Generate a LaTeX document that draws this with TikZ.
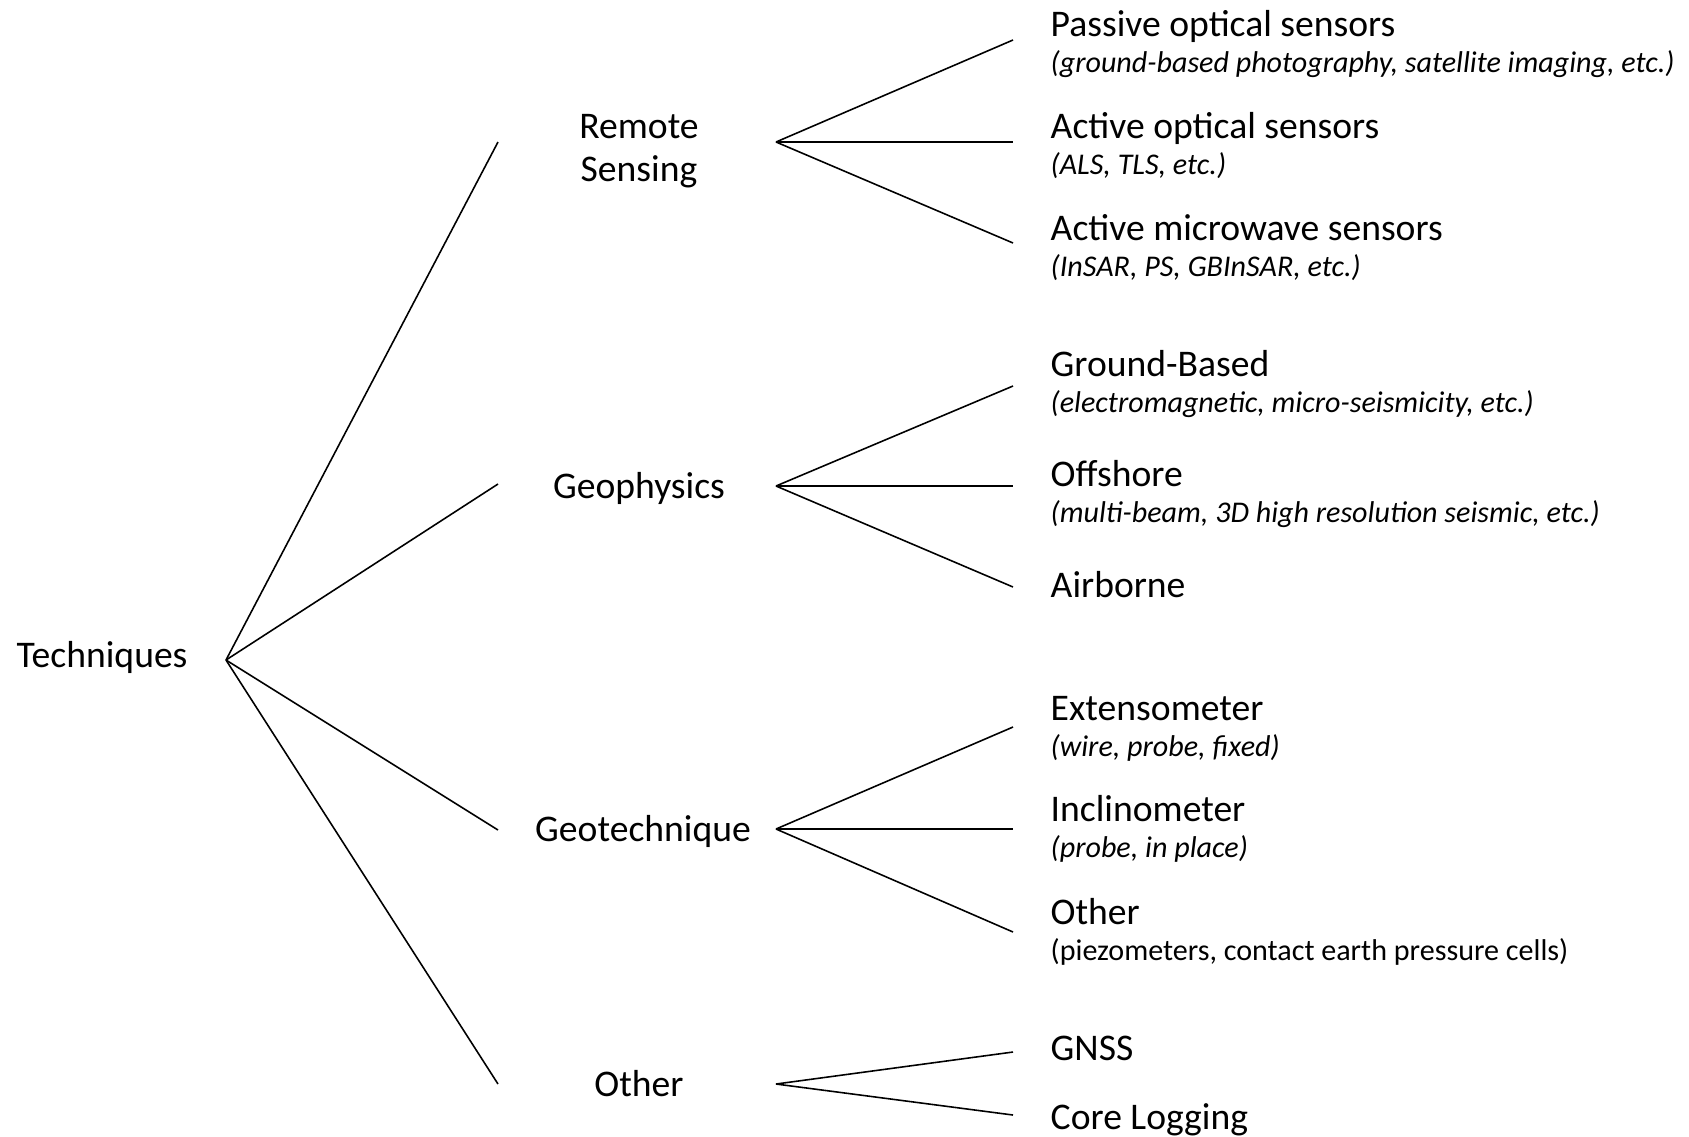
\documentclass[tikz,border=0pt]{standalone}
\usepackage{fontspec}
\setmainfont{Carlito}
\usetikzlibrary{positioning}

\begin{document}
\begin{tikzpicture}[x=0.01cm,y=-0.01cm,node distance=10.5pt]
    \tikzset{
      head/.style={inner sep=0pt,font=\fontsize{10.7}{12.2}\selectfont},
      leaf/.style={head,anchor=base west},
      note/.style={inner sep=0pt,font=\fontsize{8.55}{10}\selectfont\itshape},
      branch/.style={draw,line width=0.45pt}
    }
    \useasboundingbox (0,0) rectangle (1689,1136);
    % first level
    \node[head,anchor=base west] (tech) at (16,667) {Techniques};
    \node[head,align=center] (rs) at (639,151) {Remote\\Sensing};
    \node[head,anchor=base] (gp) at (639,498) {Geophysics};
    \node[head,anchor=base] (gt) at (643,841) {Geotechnique};
    \node[head,anchor=base] (ot) at (639,1096) {Other};
    % leaves
    \node[leaf] (pas) at (1050,36) {Passive optical sensors};
    \node[note] (pasN) [below=of pas.base west,anchor=base west] {(ground-based photography, satellite imaging, etc.)};
    \node[leaf] (aos) at (1050,138) {Active optical sensors};
    \node[note] (aosN) [below=of aos.base west,anchor=base west] {(ALS, TLS, etc.)};
    \node[leaf] (ams) at (1050,240) {Active microwave sensors};
    \node[note] (amsN) [below=of ams.base west,anchor=base west] {(InSAR, PS, GBInSAR, etc.)};
    \node[leaf] (gb) at (1050,376) {Ground-Based};
    \node[note] (gbN) [below=of gb.base west,anchor=base west] {(electromagnetic, micro-seismicity, etc.)};
    \node[leaf] (off) at (1050,486) {Offshore};
    \node[note] (offN) [below=of off.base west,anchor=base west] {(multi-beam, 3D high resolution seismic, etc.)};
    \node[leaf] (air) at (1050,597) {Airborne};
    \node[leaf] (ext) at (1050,720) {Extensometer};
    \node[note] (extN) [below=of ext.base west,anchor=base west] {(wire, probe, fixed)};
    \node[leaf] (inc) at (1050,821) {Inclinometer};
    \node[note] (incN) [below=of inc.base west,anchor=base west] {(probe, in place)};
    \node[leaf] (oth) at (1050,924) {Other};
    \node[note,font=\fontsize{8.55}{10}\selectfont] (othN) [below=of oth.base west,anchor=base west] {(piezometers, contact earth pressure cells)};
    \node[leaf] (gnss) at (1050,1060) {GNSS};
    \node[leaf] (core) at (1050,1129) {Core Logging};
    % line ends
    \coordinate (techR) at (226,660);
    \coordinate (rsL) at (498,142);  \coordinate (rsR) at (776,142);
    \coordinate (gpL) at (498,484);  \coordinate (gpR) at (776,486);
    \coordinate (gtL) at (498,830);  \coordinate (gtR) at (776,829);
    \coordinate (otL) at (498,1084); \coordinate (otR) at (776,1084);
    \coordinate (pasL) at (1013,40);  \coordinate (aosL) at (1013,142); \coordinate (amsL) at (1013,243);
    \coordinate (gbL) at (1013,386);  \coordinate (offL) at (1013,486); \coordinate (airL) at (1013,587);
    \coordinate (extL) at (1013,727); \coordinate (incL) at (1013,829); \coordinate (othL) at (1013,932);
    \coordinate (gnssL) at (1013,1052); \coordinate (coreL) at (1013,1115);
    \path[branch]
    (techR) edge (rsL) edge (gpL) edge (gtL) edge (otL)
    (rsR) edge (pasL) edge (aosL) edge (amsL)
    (gpR) edge (gbL) edge (offL) edge (airL)
    (gtR) edge (extL) edge (incL) edge (othL)
    (otR) edge (gnssL) edge (coreL)
    ;
  \end{tikzpicture}
\end{document}
